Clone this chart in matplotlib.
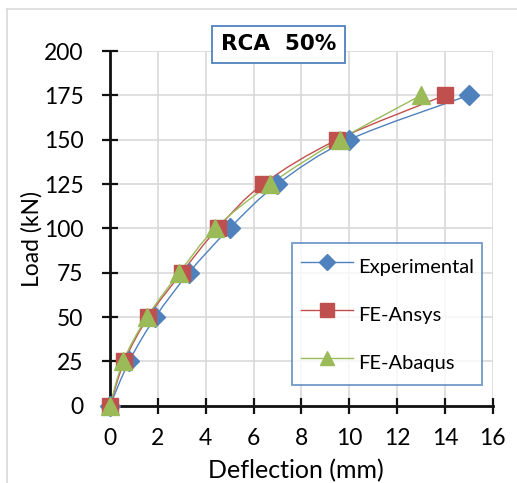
import numpy as np
import matplotlib
matplotlib.use("Agg")
import matplotlib.pyplot as plt
from matplotlib.path import Path
from matplotlib.patches import PathPatch
from matplotlib.lines import Line2D

# load levels (kN) and measured / simulated deflections (mm)
load = [0, 25, 50, 75, 100, 125, 150, 175]
defl_exp = [0, 0.8, 1.9, 3.3, 5.0, 7.0, 10.0, 15.0]
defl_ansys = [0, 0.6, 1.6, 3.0, 4.5, 6.4, 9.5, 14.0]
defl_abaqus = [0, 0.55, 1.55, 2.9, 4.4, 6.7, 9.6, 13.0]

x_ticks = [0, 2, 4, 6, 8, 10, 12, 14, 16]
y_ticks = [0, 25, 50, 75, 100, 125, 150, 175, 200]

BLUE = '#4f81bd'
RED = '#c0504d'
GREEN = '#9bbb59'

plt.rcParams['font.family'] = ['Lato', 'DejaVu Sans']


def smooth_path(xs, ys, t=1/6.):
    # catmull-rom style bezier through the points, like a spreadsheet "smoothed line"
    pts = np.column_stack([xs, ys]).astype(float)
    verts = [pts[0]]
    codes = [Path.MOVETO]
    n = len(pts)
    for i in range(n - 1):
        p0 = pts[i - 1] if i > 0 else pts[i]
        p1 = pts[i]
        p2 = pts[i + 1]
        p3 = pts[i + 2] if i + 2 < n else pts[i + 1]
        c1 = p1 + (p2 - p0) * t
        c2 = p2 - (p3 - p1) * t
        verts += [c1, c2, p2]
        codes += [Path.CURVE4] * 3
    return Path(verts, codes)


fig = plt.figure(figsize=(5.17, 4.83), dpi=100)
ax = fig.add_axes([110/517, 1 - 405.7/483, (492.7 - 110)/517, (405.7 - 51)/483])

series = [
    (defl_exp, BLUE, 'D', 10, 'Experimental'),
    (defl_ansys, RED, 's', 12, 'FE-Ansys'),
    (defl_abaqus, GREEN, '^', 12.5, 'FE-Abaqus'),
]
handles = []
for xs, col, mk, ms, lab in series:
    ax.add_patch(PathPatch(smooth_path(xs, load), facecolor='none',
                           edgecolor=col, lw=1.0, zorder=3))
    ax.plot(xs, load, linestyle='none', marker=mk, markersize=ms, color=col,
            markeredgecolor=col, clip_on=False, zorder=4)
    handles.append(Line2D([], [], color=col, lw=1.0, marker=mk, markersize=ms * 0.85,
                          label=lab))

ax.set_xlim(0, 16)
ax.set_ylim(0, 200)
ax.set_xticks(x_ticks)
ax.set_yticks(y_ticks)
ax.grid(True, color='#d9d9d9', lw=1.2)
ax.set_axisbelow(True)

for s in ['top', 'right']:
    ax.spines[s].set_visible(False)
for s in ['left', 'bottom']:
    ax.spines[s].set_linewidth(2)
    ax.spines[s].set_color('#111111')
    ax.spines[s].set_zorder(2.5)
ax.tick_params(direction='inout', length=12, width=1.6, color='#111111',
               labelsize=16.5)
ax.tick_params(axis='x', pad=10)
ax.tick_params(axis='y', pad=13)

ax.set_xlabel('Deflection (mm)', fontsize=18)
ax.set_ylabel('Load (kN)', fontsize=16.5)
ax.xaxis.set_label_coords(0.485, -0.15)
ax.yaxis.set_label_coords(-0.175, 0.47)

ax.text(0.44, 1.0 + 0.019, 'RCA  50%', transform=ax.transAxes, ha='center', va='center',
        fontsize=15.5, fontweight='bold', family='DejaVu Sans',
        bbox=dict(boxstyle='square,pad=0.4', facecolor='white', edgecolor=BLUE, lw=1.3))

leg = ax.legend(handles=handles, loc='lower right', bbox_to_anchor=(0.972, 0.058),
                fontsize=14.5, frameon=True, fancybox=False, labelspacing=0.9,
                handleheight=1.9, handlelength=2.6, handletextpad=0.25,
                borderpad=0.4, borderaxespad=0)
leg.get_frame().set_edgecolor(BLUE)
leg.get_frame().set_linewidth(1.3)

# outer chart-area border
fig.add_artist(Line2D([7/517, 1], [1 - 9/483] * 2, color='#d9d9d9', lw=1.2))
fig.add_artist(Line2D([7/517] * 2, [0, 1 - 9/483], color='#d9d9d9', lw=1.2))

fig.savefig('out.png', dpi=100)
